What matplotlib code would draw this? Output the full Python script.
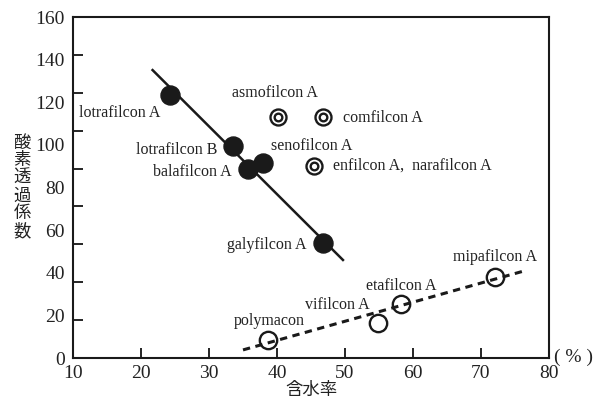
import matplotlib
matplotlib.use("Agg")
import matplotlib.pyplot as plt
import numpy as np

plt.rcParams['font.family'] = ['Liberation Serif', 'Noto Sans CJK JP']

# silicone hydrogel lenses (filled)
si_names = ["lotrafilcon A", "lotrafilcon B", "balafilcon A", "senofilcon A", "galyfilcon A"]
si_water = [24.3, 33.6, 35.8, 37.9, 46.8]
si_dk = [123.4, 99.5, 88.5, 91.4, 54.1]

# double circle lenses
dc_names = ["asmofilcon A", "comfilcon A", "enfilcon A,  narafilcon A"]
dc_water = [40.2, 46.7, 45.4]
dc_dk = [113.2, 112.9, 90.1]

# conventional hydrogel lenses (open)
hg_names = ["polymacon", "vifilcon A", "etafilcon A", "mipafilcon A"]
hg_water = [38.7, 54.9, 58.2, 72.0]
hg_dk = [8.4, 16.2, 25.2, 37.8]

# trend lines (end points)
solid_x = [21.7, 49.7]
solid_y = [135.1, 46.0]
dash_x = [35.0, 76.5]
dash_y = [3.8, 41.0]

# label positions (x, y, ha)
si_label_pos = [(16.9, 115.0, "center"), (31.2, 97.6, "right"), (33.3, 87.4, "right"),
                (45.1, 99.5, "center"), (44.4, 53.0, "right")]
dc_label_pos = [(39.7, 124.2, "center"), (49.7, 112.5, "left"), (48.3, 90.1, "left")]
hg_label_pos = [(38.9, 17.5, "center"), (48.8, 24.9, "center"), (58.3, 33.8, "center"),
                (72.1, 47.3, "center")]

fig = plt.figure(figsize=(5.99, 4.05), dpi=100)
ax = fig.add_axes([0.1219, 0.116, 0.7946, 0.842])

ax.plot(solid_x, solid_y, color="#1a1a1a", lw=1.8, zorder=2)
ax.plot(dash_x, dash_y, color="#1a1a1a", lw=2.2, dashes=(2.4, 1.8), zorder=2)

ax.plot(si_water, si_dk, "o", ms=13.7, color="#1a1a1a", mec="#1a1a1a", zorder=3)
ax.plot(dc_water, dc_dk, "o", ms=11.5, mfc="white", mec="#1a1a1a", mew=1.7, zorder=3)
ax.plot(dc_water, dc_dk, "o", ms=5.5, mfc="white", mec="#1a1a1a", mew=1.7, zorder=4)
ax.plot(hg_water, hg_dk, "o", ms=12.5, mfc="none", mec="#1a1a1a", mew=1.7, zorder=3)

for names, pos in [(si_names, si_label_pos), (dc_names, dc_label_pos), (hg_names, hg_label_pos)]:
    for n, (tx, ty, ha) in zip(names, pos):
        ax.text(tx, ty, n, fontsize=11.5, ha=ha, va="center", color="#222222")

ax.set_xlim(10, 80)
ax.set_ylim(0, 160)
ax.set_xticks(np.arange(10, 81, 10))
ax.set_yticks(np.arange(0, 161, 20))
ax.set_yticks(np.linspace(0, 160, 10), minor=True)
ax.tick_params(axis="y", which="major", length=0, pad=6, labelsize=14)
ax.tick_params(axis="y", which="minor", direction="in", length=7, width=1.2)
ax.tick_params(axis="x", which="major", direction="in", length=7, width=1.2, pad=5, labelsize=14)
for lab in ax.get_xticklabels() + ax.get_yticklabels():
    lab.set_color("#222222")
for s in ax.spines.values():
    s.set_linewidth(1.5)
    s.set_color("#1a1a1a")

ax.text(83.6, 0.5, "( % )", fontsize=14, ha="center", va="center", clip_on=False, color="#222222")
ax.set_xlabel("含水率", fontsize=12.5, labelpad=1, color="#222222")
fig.text(22 / 599, 1 - 188 / 405, "\n".join("酸素透過係数"), fontsize=12.5, ha="center", va="center",
         linespacing=1.12, color="#222222")

fig.savefig("out.png", dpi=100)
